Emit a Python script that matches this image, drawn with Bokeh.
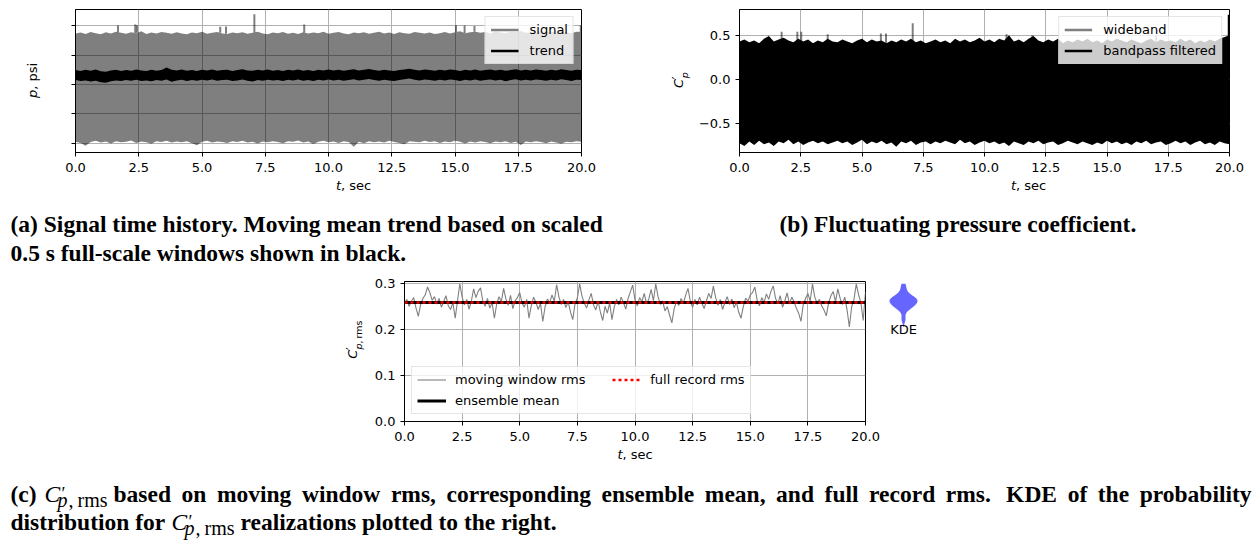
import numpy as np
from bokeh.plotting import figure
from bokeh.models import Label, Legend, LegendItem, FixedTicker, PrintfTickFormatter, Range1d, Spacer
from bokeh.layouts import column, row
from bokeh.embed import file_html
from bokeh.resources import INLINE

# ---------------- data ----------------
x_ticks = [0, 2.5, 5, 7.5, 10, 12.5, 15, 17.5, 20]
a_yticks = [-2, -1, 0, 1, 2]
a_ylabels = {-2: "", -1: "", 0: "", 1: "", 2: ""}
b_yticks = [-0.5, 0.0, 0.5]
b_ylabels = {-0.5: "\u22120.5", 0.0: "0.0", 0.5: "0.5"}
c_yticks = [0.0, 0.1, 0.2, 0.3]

# (a) signal envelope (0.2 s steps), arbitrary pressure units
sig_hi = [1.74, 1.77, 1.72, 1.79, 1.75, 1.71, 1.78, 1.74, 1.80, 1.76,
          1.73, 1.78, 1.75, 1.81, 1.72, 1.77, 1.74, 1.79, 1.76, 1.73,
          1.78, 1.74, 1.71, 1.77, 1.75, 1.80, 1.73, 1.76, 1.79, 1.74,
          1.72, 1.77, 1.75, 1.78, 1.73, 1.76, 1.80, 1.74, 1.71, 1.77,
          1.75, 1.79, 1.73, 1.76, 1.72, 1.78, 1.74, 1.77, 1.75, 1.80,
          1.73, 1.76, 1.79, 1.74, 1.71, 1.77, 1.75, 1.78, 1.73, 1.76,
          1.80, 1.74, 1.77, 1.72, 1.78, 1.75, 1.73, 1.79, 1.76, 1.74,
          1.77, 1.72, 1.75, 1.79, 1.74, 1.78, 1.81, 1.75, 1.78, 1.80,
          1.76, 1.79, 1.74, 1.81, 1.77, 1.75, 1.80, 1.78, 1.82, 1.76,
          1.79, 1.75, 1.81, 1.77, 1.80, 1.76, 1.82, 1.78, 1.75, 1.80,
          1.79]
sig_lo = [-1.95, -1.99, -2.09, -1.96, -1.92, -1.98, -1.94, -2.01, -1.93, -1.97,
          -1.95, -1.91, -1.99, -1.94, -1.97, -2.02, -1.93, -1.96, -1.92, -1.98,
          -1.94, -1.97, -1.93, -2.00, -2.07, -1.95, -1.92, -1.98, -1.94, -1.96,
          -1.99, -1.93, -1.96, -1.92, -1.98, -1.95, -2.01, -1.94, -1.97, -1.93,
          -1.96, -2.00, -1.93, -1.95, -1.91, -1.98, -1.94, -2.03, -1.95, -1.92,
          -1.97, -1.94, -1.99, -1.93, -1.96, -2.12, -1.95, -2.00, -1.93, -1.97,
          -1.94, -1.98, -1.92, -1.96, -1.99, -2.04, -1.93, -1.95, -1.97, -1.92,
          -1.96, -1.93, -1.99, -1.94, -1.97, -1.92, -1.95, -2.01, -1.94, -1.98,
          -1.93, -1.96, -2.00, -1.94, -1.97, -1.93, -1.99, -1.95, -2.06, -1.94,
          -1.97, -1.93, -1.96, -2.00, -1.94, -1.98, -2.02, -1.95, -1.97, -1.93,
          -1.95]
sig_spike_t = [1.68, 2.36, 2.43, 5.72, 5.95, 7.07, 9.04, 15.04, 15.38, 15.77, 19.97]
sig_spike_top = [2.01, 2.04, 2.02, 1.97, 1.98, 2.39, 2.04, 2.02, 2.01, 1.99, 2.02]

# (a) moving-mean trend band
trend_hi = [0.49, 0.46, 0.50, 0.47, 0.51, 0.45, 0.43, 0.48, 0.50, 0.46,
            0.49, 0.47, 0.51, 0.48, 0.46, 0.50, 0.47, 0.49, 0.58, 0.50,
            0.48, 0.51, 0.47, 0.49, 0.46, 0.50, 0.48, 0.51, 0.47, 0.49,
            0.50, 0.46, 0.49, 0.52, 0.48, 0.47, 0.50, 0.48, 0.51, 0.47,
            0.49, 0.46, 0.50, 0.48, 0.51, 0.47, 0.49, 0.46, 0.50, 0.48,
            0.51, 0.48, 0.50, 0.47, 0.49, 0.52, 0.48, 0.50, 0.53, 0.49,
            0.47, 0.50, 0.48, 0.46, 0.49, 0.51, 0.54, 0.50, 0.48, 0.51,
            0.49, 0.47, 0.50, 0.48, 0.51, 0.49, 0.46, 0.50, 0.48, 0.51,
            0.47, 0.49, 0.51, 0.48, 0.50, 0.47, 0.49, 0.52, 0.48, 0.50,
            0.48, 0.51, 0.49, 0.47, 0.50, 0.48, 0.52, 0.49, 0.47, 0.50,
            0.49]
trend_lo = [0.15, 0.12, 0.14, 0.10, 0.13, 0.08, 0.06, 0.11, 0.14, 0.12,
            0.15, 0.13, 0.16, 0.12, 0.14, 0.11, 0.15, 0.13, 0.17, 0.09,
            0.14, 0.16, 0.12, 0.15, 0.13, 0.16, 0.14, 0.17, 0.13, 0.15,
            0.16, 0.12, 0.14, 0.17, 0.13, 0.10, 0.15, 0.13, 0.16, 0.14,
            0.15, 0.12, 0.16, 0.14, 0.17, 0.13, 0.15, 0.12, 0.16, 0.14,
            0.17, 0.14, 0.16, 0.13, 0.15, 0.18, 0.14, 0.16, 0.19, 0.15,
            0.13, 0.16, 0.14, 0.12, 0.15, 0.18, 0.20, 0.16, 0.14, 0.17,
            0.15, 0.13, 0.16, 0.14, 0.17, 0.15, 0.12, 0.16, 0.14, 0.17,
            0.13, 0.15, 0.17, 0.14, 0.16, 0.11, 0.15, 0.18, 0.14, 0.16,
            0.14, 0.17, 0.15, 0.13, 0.16, 0.14, 0.18, 0.15, 0.12, 0.16,
            0.15]

# (b) bandpass-filtered Cp' envelope
bp_hi = [0.43, 0.45, 0.42, 0.44, 0.41, 0.46, 0.49, 0.43, 0.45, 0.47,
         0.44, 0.42, 0.46, 0.43, 0.45, 0.41, 0.44, 0.42, 0.46, 0.43,
         0.42, 0.45, 0.43, 0.41, 0.44, 0.46, 0.42, 0.45, 0.43, 0.44,
         0.41, 0.44, 0.42, 0.45, 0.43, 0.46, 0.42, 0.44, 0.41, 0.43,
         0.45, 0.42, 0.44, 0.41, 0.46, 0.43, 0.45, 0.42, 0.44, 0.47,
         0.43, 0.45, 0.42, 0.46, 0.44, 0.50, 0.43, 0.45, 0.42, 0.46,
         0.49, 0.44, 0.42, 0.45, 0.43, 0.46, 0.41, 0.44, 0.42, 0.45,
         0.43, 0.46, 0.42, 0.44, 0.41, 0.45, 0.43, 0.46, 0.44, 0.42,
         0.45, 0.43, 0.41, 0.44, 0.46, 0.42, 0.45, 0.43, 0.44, 0.42,
         0.46, 0.43, 0.45, 0.41, 0.44, 0.42, 0.45, 0.43, 0.46, 0.48,
         0.50]
bp_lo = [-0.72, -0.75, -0.70, -0.74, -0.69, -0.73, -0.71, -0.75, -0.70, -0.72,
         -0.68, -0.73, -0.70, -0.74, -0.71, -0.69, -0.72, -0.70, -0.73, -0.71,
         -0.69, -0.72, -0.70, -0.74, -0.71, -0.68, -0.73, -0.70, -0.72, -0.69,
         -0.73, -0.71, -0.76, -0.70, -0.72, -0.69, -0.74, -0.71, -0.70, -0.73,
         -0.70, -0.72, -0.69, -0.71, -0.73, -0.68, -0.72, -0.70, -0.74, -0.71,
         -0.69, -0.72, -0.70, -0.73, -0.71, -0.75, -0.70, -0.72, -0.74, -0.70,
         -0.72, -0.69, -0.73, -0.71, -0.70, -0.74, -0.72, -0.69, -0.71, -0.73,
         -0.70, -0.72, -0.74, -0.71, -0.73, -0.69, -0.72, -0.70, -0.73, -0.71,
         -0.74, -0.70, -0.72, -0.69, -0.73, -0.71, -0.70, -0.74, -0.72, -0.69,
         -0.72, -0.70, -0.74, -0.71, -0.69, -0.73, -0.71, -0.74, -0.70, -0.72,
         -0.73]
bp_spike_t = [19.97]
bp_spike_top = [0.73]
wb_spike_t = [1.72, 2.36, 2.52, 3.60, 5.77, 5.98, 7.07, 10.90, 11.95, 17.00]
wb_spike_top = [0.54, 0.54, 0.54, 0.51, 0.52, 0.52, 0.635, 0.51, 0.50, 0.49]

# (c) moving window rms of Cp' (0.1 s steps)
rms_vals = [0.258, 0.266, 0.251, 0.262, 0.270, 0.247, 0.229, 0.255, 0.268, 0.276,
            0.293, 0.281, 0.264, 0.272, 0.256, 0.268, 0.249, 0.261, 0.274, 0.252,
            0.244, 0.259, 0.225, 0.263, 0.300, 0.271, 0.254, 0.266, 0.245, 0.262,
            0.289, 0.270, 0.284, 0.291, 0.262, 0.251, 0.268, 0.247, 0.259, 0.225,
            0.256, 0.272, 0.261, 0.290, 0.267, 0.253, 0.275, 0.246, 0.263, 0.270,
            0.281, 0.258, 0.249, 0.266, 0.225, 0.252, 0.271, 0.260, 0.244, 0.257,
            0.218, 0.250, 0.267, 0.259, 0.276, 0.262, 0.298, 0.271, 0.255, 0.266,
            0.248, 0.261, 0.239, 0.222, 0.257, 0.269, 0.300, 0.273, 0.258, 0.247,
            0.265, 0.279, 0.254, 0.243, 0.262, 0.238, 0.220, 0.251, 0.236, 0.258,
            0.222, 0.249, 0.266, 0.254, 0.271, 0.259, 0.245, 0.268, 0.283, 0.297,
            0.265, 0.252, 0.270, 0.261, 0.279, 0.256, 0.267, 0.288, 0.263, 0.300,
            0.272, 0.255, 0.263, 0.241, 0.250, 0.232, 0.215, 0.246, 0.262, 0.253,
            0.268, 0.257, 0.276, 0.290, 0.262, 0.249, 0.266, 0.254, 0.271, 0.258,
            0.246, 0.263, 0.279, 0.268, 0.295, 0.270, 0.253, 0.266, 0.244, 0.259,
            0.272, 0.255, 0.267, 0.248, 0.260, 0.238, 0.225, 0.251, 0.269, 0.262,
            0.276, 0.281, 0.293, 0.264, 0.252, 0.270, 0.259, 0.278, 0.266, 0.284,
            0.295, 0.268, 0.257, 0.274, 0.249, 0.263, 0.280, 0.256, 0.271, 0.261,
            0.247, 0.236, 0.218, 0.255, 0.268, 0.279, 0.262, 0.300, 0.271, 0.258,
            0.266, 0.252, 0.243, 0.230, 0.259, 0.274, 0.283, 0.261, 0.289, 0.268,
            0.255, 0.271, 0.243, 0.206, 0.250, 0.266, 0.300, 0.276, 0.259, 0.220,
            0.282]
ensemble_mean = 0.259
full_record_rms = 0.259

t_start, t_end = 0.0, 20.0

# ---------------- helpers ----------------
SANS = "DejaVu Sans"
SERIF = "Liberation Serif"
FS = "13px"
GREY = "#808080"
BL = 0.42  # baseline correction (fraction of font size)


def T(p, fl, fb, X, Y, text, size=13.0, font=SANS, style="normal", align="left",
      angle=0.0, color="black"):
    """Text whose alphabetic baseline sits at page coords (X, Y)."""
    if angle == 0.0:
        Y = Y - BL * size
    else:
        X = X - BL * size
    p.add_layout(Label(x=X - fl, y=fb - Y, x_units="screen", y_units="screen",
                       text=text, text_font=font, text_font_size="%gpx" % size,
                       text_font_style=style, text_align=align,
                       text_baseline="alphabetic", angle=angle, text_color=color))


def style_axes(p, xt, yt):
    for ax in list(p.xaxis) + list(p.yaxis):
        ax.axis_line_color = "black"
        ax.axis_line_width = 1
        ax.major_tick_line_color = "black"
        ax.major_tick_out = 4
        ax.major_tick_in = 0
        ax.minor_tick_line_color = None
        ax.major_label_text_font = SANS
        ax.major_label_text_font_size = FS
        ax.major_label_text_color = "black"
    p.xaxis.major_label_standoff = 6
    p.yaxis.major_label_standoff = 5
    p.xaxis.ticker = FixedTicker(ticks=xt)
    p.xgrid.ticker = FixedTicker(ticks=xt)
    p.yaxis.ticker = FixedTicker(ticks=yt)
    p.ygrid.ticker = FixedTicker(ticks=yt)
    p.xaxis.formatter = PrintfTickFormatter(format="%.1f")
    p.grid.grid_line_color = "#b0b0b0"
    p.grid.grid_line_width = 1
    p.outline_line_color = "black"
    p.outline_line_alpha = 1
    p.outline_line_width = 1
    p.background_fill_color = "white"
    p.border_fill_color = "white"


def make_legend(p, items, loc, margin, ncols=1, glyph_w=28, standoff=11):
    lg = Legend(items=items, location=loc, ncols=ncols, orientation="vertical")
    lg.label_text_font = SANS
    lg.label_text_font_size = FS
    lg.label_text_color = "black"
    lg.glyph_width = glyph_w
    lg.glyph_height = 15
    lg.label_height = 15
    lg.label_standoff = standoff
    lg.spacing = 6
    lg.padding = 5
    lg.margin = margin
    lg.border_line_color = "#cccccc"
    lg.border_line_width = 1
    lg.background_fill_color = "white"
    lg.background_fill_alpha = 0.8
    p.add_layout(lg)


def plot_fig(w, h, bl, br, bt, bb, xr, yr):
    return figure(width=w, height=h, x_range=xr, y_range=yr, title=None,
                  min_border_left=bl, min_border_right=br, min_border_top=bt,
                  min_border_bottom=bb, output_backend="svg",
                  toolbar_location=None, tools="")


def blank(w, h):
    p = figure(width=w, height=h, x_axis_type=None, y_axis_type=None, title=None,
               x_range=Range1d(0, 1), y_range=Range1d(0, 1),
               min_border_left=0, min_border_right=0, min_border_top=0,
               min_border_bottom=0, output_backend="svg", toolbar_location=None,
               tools="")
    p.outline_line_color = None
    p.grid.visible = False
    p.background_fill_color = "white"
    p.border_fill_color = "white"
    return p


NAN = np.array([np.nan])
t_env = np.linspace(t_start, t_end, len(sig_hi))
ROT = np.pi / 2
PRIME = "\u2032"

# ---------------- panel (a) ----------------
fAyl = blank(50, 200)                       # page origin (0, 0)
fa = plot_fig(580, 178, 25, 49, 9, 26, Range1d(0, 20), Range1d(-2.317, 2.555))
fAxl = blank(580, 22)                       # page origin (50, 178)
style_axes(fa, x_ticks, a_yticks)
fa.yaxis.major_label_overrides = a_ylabels
fa.varea(x=t_env, y1=sig_lo, y2=sig_hi, fill_color="black", fill_alpha=0.5)
sp_base = np.interp(sig_spike_t, t_env, sig_hi)
fa.segment(x0=sig_spike_t, y0=sp_base, x1=sig_spike_t, y1=sig_spike_top,
           line_color="black", line_alpha=0.5, line_width=2, line_cap="butt")
fa.varea(x=t_env, y1=trend_lo, y2=trend_hi, fill_color="black")
la1 = fa.line(x=NAN, y=NAN, line_color=GREY, line_width=2.5)
la2 = fa.line(x=NAN, y=NAN, line_color="black", line_width=2.5)
make_legend(fa, [LegendItem(label="signal", renderers=[la1]),
                 LegendItem(label="trend", renderers=[la2])], "top_right", 7)
T(fAxl, 50, 200, 315.5, 190.5, "t", style="italic", align="right")
T(fAxl, 50, 200, 315.5, 190.5, ", sec")
T(fAyl, 0, 200, 37.0, 89.3, "p", style="italic", align="right", angle=ROT)
T(fAyl, 0, 200, 37.0, 89.3, ", psi", angle=ROT)

# ---------------- panel (b) ----------------
fByl = blank(65, 200)                       # page origin (630, 0)
fb = plot_fig(561, 178, 44, 27, 9, 26, Range1d(0, 20), Range1d(-0.824, 0.790))
fBxl = blank(561, 22)                       # page origin (695, 178)
style_axes(fb, x_ticks, b_yticks)
fb.yaxis.major_label_overrides = b_ylabels
fb.segment(x0=wb_spike_t, y0=[0.0] * len(wb_spike_t), x1=wb_spike_t, y1=wb_spike_top,
           line_color="black", line_alpha=0.5, line_width=2, line_cap="butt")
fb.varea(x=t_env, y1=bp_lo, y2=bp_hi, fill_color="black")
fb.segment(x0=bp_spike_t, y0=[0.0] * len(bp_spike_t), x1=bp_spike_t, y1=bp_spike_top,
           line_color="black", line_width=2, line_cap="butt")
lb1 = fb.line(x=NAN, y=NAN, line_color=GREY, line_width=2.5)
lb2 = fb.line(x=NAN, y=NAN, line_color="black", line_width=2.5)
make_legend(fb, [LegendItem(label="wideband", renderers=[lb1]),
                 LegendItem(label="bandpass filtered", renderers=[lb2])], "top_right", 7)
T(fBxl, 695, 200, 971.5, 190.5, "t", style="italic", align="right")
T(fBxl, 695, 200, 971.5, 190.5, ", sec")
T(fByl, 630, 200, 683.3, 87.5, "C", style="italic", angle=ROT)
T(fByl, 630, 200, 682.0, 78.8, PRIME, size=12, angle=ROT)
T(fByl, 630, 200, 688.0, 77.8, "p", size=9.5, style="italic", angle=ROT)

# ---------------- captions (a), (b) ----------------
CAP = 23.5
fcap1 = blank(1256, 70)                     # page origin (0, 200)
T(fcap1, 0, 270, 10, 233, "(a) Signal time history. Moving mean trend based on scaled",
  size=CAP, font=SERIF, style="bold")
T(fcap1, 0, 270, 10, 262, "0.5 s full-scale windows shown in black.",
  size=CAP, font=SERIF, style="bold")
T(fcap1, 0, 270, 779, 233, "(b) Fluctuating pressure coefficient.",
  size=CAP, font=SERIF, style="bold")

# ---------------- panel (c) ----------------
rms_t = np.linspace(t_start, t_end, len(rms_vals))
padC = Spacer(width=300, height=177)        # page origin (0, 270)
# frames of the plots in this row are aligned: frame spans y 281..421 on the page
fCyl = blank(70, 177)                       # page origin (300, 270)
fc = plot_fig(510, 177, 34, 15, 11, 26, Range1d(0, 20), Range1d(0, 0.305))
fCxl = blank(1256, 23)                      # page origin (0, 447)
style_axes(fc, x_ticks, c_yticks)
fc.yaxis.formatter = PrintfTickFormatter(format="%.1f")
rc1 = fc.line(x=rms_t, y=rms_vals, line_color=GREY, line_width=1.1)
rc2 = fc.line(x=[t_start, t_end], y=[ensemble_mean, ensemble_mean], line_color="black",
              line_width=3)
rc3 = fc.line(x=[t_start, t_end], y=[full_record_rms, full_record_rms], line_color="red",
              line_width=2.5, line_dash="3 3")
make_legend(fc, [LegendItem(label="moving window rms\u00a0\u00a0\u00a0\u00a0\u00a0", renderers=[rc1]),
                 LegendItem(label="ensemble mean", renderers=[rc2]),
                 LegendItem(label="full record rms", renderers=[rc3])],
            "bottom_left", 7, ncols=2, glyph_w=29, standoff=9)
T(fCxl, 0, 470, 622, 459, "t", style="italic", align="right")
T(fCxl, 0, 470, 622, 459, ", sec")
T(fCyl, 300, 421, 357.0, 358.3, "C", style="italic", angle=ROT)
T(fCyl, 300, 421, 355.7, 349.6, PRIME, size=12, angle=ROT)
T(fCyl, 300, 421, 361.5, 349.0, "p", size=9.5, style="italic", angle=ROT)
T(fCyl, 300, 421, 361.5, 343.0, ",\u2009rms", size=9.5, angle=ROT)

# ---------------- KDE of rms realizations ----------------
rms_arr = np.asarray(rms_vals)
bw = rms_arr.std(ddof=1) * len(rms_arr) ** (-1.0 / 5.0)
kde_y = np.linspace(rms_arr.min(), rms_arr.max(), 120)
kde_d = np.exp(-0.5 * ((kde_y[:, None] - rms_arr[None, :]) / bw) ** 2).sum(axis=1)
kde_d = kde_d / kde_d.max()
fk = figure(width=376, height=177, x_axis_type=None, y_axis_type=None, title=None,
            x_range=Range1d(-18 / 14, 18 / 14), y_range=Range1d(0, 0.305),
            min_border_left=5, min_border_right=335, min_border_top=11, min_border_bottom=26,
            output_backend="svg", toolbar_location=None, tools="")
fk.outline_line_color = None
fk.grid.visible = False
fk.harea(y=kde_y, x1=-kde_d, x2=kde_d, fill_color="#6666ff")
T(fk, 885, 421, 903, 334.7, "KDE", align="center")

# ---------------- caption (c) ----------------
fcap2 = blank(1256, 70)                     # page origin (0, 470)
SUB = 20.0
GAP = " \u2009"


def math_cp(p, X0, Yb):
    T(p, 0, 540, X0, Yb, "C", size=CAP, font=SERIF, style="italic")
    T(p, 0, 540, X0 + 17.0, Yb - 2, PRIME, size=18, font=SERIF)
    T(p, 0, 540, X0 + 13.0, Yb + 4.5, "p", size=SUB, font=SERIF, style="italic")
    T(p, 0, 540, X0 + 24.0, Yb + 4.5, ",\u2009rms", size=SUB, font=SERIF)
    return X0 + 63.0


T(fcap2, 0, 540, 10, 503, "(c)", size=CAP, font=SERIF, style="bold")
xe = math_cp(fcap2, 44, 503)
line1 = ("based on moving window rms, corresponding ensemble mean, and full record rms."
         "\u2009 KDE of the probability").replace(" ", GAP)
T(fcap2, 0, 540, xe + 6, 503, line1, size=CAP, font=SERIF, style="bold")
T(fcap2, 0, 540, 10, 531, "distribution for", size=CAP, font=SERIF, style="bold")
xe2 = math_cp(fcap2, 171, 531)
T(fcap2, 0, 540, xe2 + 6, 531, "realizations plotted to the right.",
  size=CAP, font=SERIF, style="bold")

layout = column(
    row(fAyl, column(fa, fAxl, spacing=0), fByl, column(fb, fBxl, spacing=0), spacing=0),
    fcap1,
    row(padC, fCyl, fc, fk, spacing=0),
    fCxl,
    fcap2,
    spacing=0)
open("out.html", "w").write(file_html(layout, INLINE))
